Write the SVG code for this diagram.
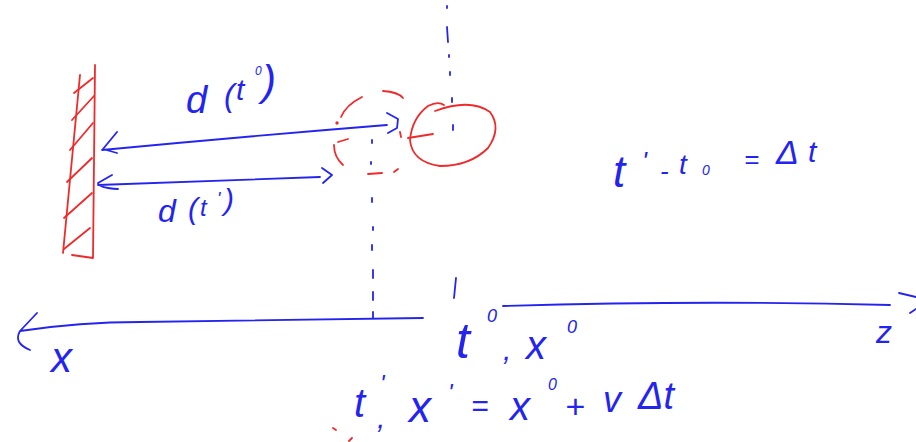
<svg xmlns="http://www.w3.org/2000/svg" width="916" height="442" viewBox="0 0 916 442">
<style>
.b{fill:none;stroke:#2424f0;stroke-width:1.8;stroke-linecap:round;stroke-linejoin:round}
.r{fill:none;stroke:#f02a2a;stroke-width:1.8;stroke-linecap:round;stroke-linejoin:round}
.t{fill:#2424f0;font-family:"Liberation Sans",Arial,sans-serif;font-style:italic}
</style>
<rect width="916" height="442" fill="#ffffff"/>
<g id="wall" class="r">
<path d="M80 75 L63 253 M95 65 L93 258 M72 255 L93 258"/>
<path d="M74 93 L93 78 M72 120 L94 96 M70 150 L93 123 M67 182 L92 158 M64 218 L92 193 M64 249 L90 228"/>
</g>
<g id="body-t0" class="r">
<path d="M341 117 Q346 105 362 97 M383 91 Q398 92 403 98 M400 132 L401 137 M334 145 Q334 157 343 165 M368 174 L382 173 M394 172 L398 169 M338 142 L348 139"/>
<circle cx="337" cy="123" r="0.8"/>
</g>
<g id="body-t1" class="r">
<path d="M435 111 Q470 98 490 112 Q502 128 488 148 Q470 166 440 166 Q412 162 410 140 Q412 118 428 106 Q438 101 444 105"/>
<path d="M408 138 L433 134"/>
</g>
<g id="connectors">
<path class="b" d="M387 125 Q250 136 102 150 M117 132 L103 149 L117 153 M387 113 L398 119 L397 128 L388 133"/>
<path class="b" d="M320 177 L98 185 M112 175 L98 183 Q99 188 118 189 M322 168 L332 175 L323 183"/>
<path class="b" d="M37 313 L20 331 Q13 343 30 350 M20 331 Q80 322 140 322 L423 318"/>
<path class="b" d="M503 306 Q700 300 890 305 M899 293 L916 297 M910 313 L916 309"/>
<path class="b" d="M447 6 L447 8 M447 27 L448 42 M449 55 L449 57 M450 72 L450 75 M452 98 L452 102 M453 125 L453 130"/>
<path class="b" d="M372 140 L372 143 M371 162 L371 164 M372 198 L372 202 M373 227 L373 230 M372 245 L372 250 M373 270 L373 278 M373 292 L373 300 M373 312 L373 318"/>
<path class="b" d="M456 278 L454 298"/>
<path class="r" d="M333 428 L336 430 M349 441 L352 438"/>
</g>
<g id="labels">
<text class="t" font-size="38" x="186" y="113">d</text>
<text class="t" font-size="32" x="224" y="106">(</text>
<text class="t" font-size="30" x="236" y="100">t</text>
<text class="t" font-size="12" x="255" y="75">0</text>
<text class="t" font-size="42" x="262" y="95">)</text>

<text class="t" font-size="32" x="158" y="222">d</text>
<text class="t" font-size="30" x="188" y="219">(</text>
<text class="t" font-size="24" x="200" y="216">t</text>
<text class="t" font-size="18" x="217" y="205">'</text>
<text class="t" font-size="30" x="224" y="210">)</text>

<text class="t" font-size="44" x="613" y="187">t</text>
<text class="t" font-size="26" x="642" y="170">'</text>
<text class="t" font-size="26" x="660" y="180">-</text>
<text class="t" font-size="28" x="679" y="174">t</text>
<text class="t" font-size="14" x="702" y="175">0</text>
<text class="t" font-size="26" x="744" y="168">=</text>
<text class="t" font-size="34" x="776" y="164">Δ</text>
<text class="t" font-size="30" x="808" y="162">t</text>

<text class="t" font-size="42" x="51" y="372">x</text>

<text class="t" font-size="50" x="456" y="358">t</text>
<text class="t" font-size="18" x="487" y="322">0</text>
<text class="t" font-size="30" x="503" y="360">,</text>
<text class="t" font-size="40" x="526" y="359">x</text>
<text class="t" font-size="18" x="567" y="333">0</text>

<text class="t" font-size="40" x="354" y="417">t</text>
<text class="t" font-size="24" x="380" y="392">'</text>
<text class="t" font-size="30" x="377" y="428">,</text>
<text class="t" font-size="44" x="409" y="422">x</text>
<text class="t" font-size="24" x="448" y="401">'</text>
<text class="t" font-size="30" x="471" y="416">=</text>
<text class="t" font-size="40" x="510" y="420">x</text>
<text class="t" font-size="16" x="548" y="390">0</text>
<text class="t" font-size="34" x="565" y="418">+</text>
<text class="t" font-size="36" x="603" y="412">v</text>
<text class="t" font-size="38" x="638" y="409">Δt</text>

<text class="t" font-size="32" x="876" y="343">z</text>
</g>
</svg>
